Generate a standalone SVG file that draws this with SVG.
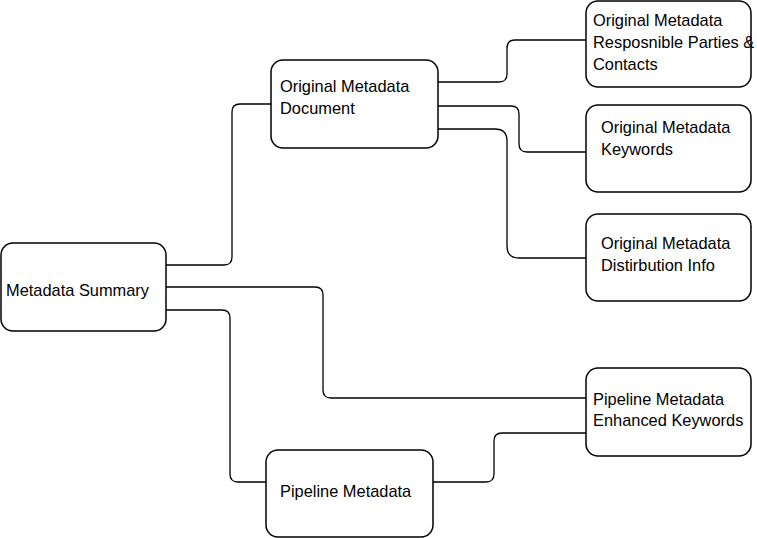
<svg xmlns="http://www.w3.org/2000/svg" width="757" height="538" viewBox="0 0 757 538">
<style>
.box{fill:#fff;stroke:#000;stroke-width:1.5}
.t{font-family:"Liberation Sans",Arial,sans-serif;font-size:16.4px;fill:#000}
.c{fill:none;stroke:#000;stroke-width:1.3}
</style>
<rect width="757" height="538" fill="#fff"/>
<g id="connectors">
<path class="c" d="M166,265 H224 Q232,265 232,257 V112 Q232,104 240,104 H271"/>
<path class="c" d="M438,82 H499 Q507,82 507,74 V48 Q507,40 515,40 H586"/>
<path class="c" d="M438,106 H511 Q519,106 519,114 V144 Q519,152 527,152 H586"/>
<path class="c" d="M438,129 H495 Q507,129 507,141 V246 Q507,258 519,258 H586"/>
<path class="c" d="M166,287 H315 Q323,287 323,295 V390 Q323,398 331,398 H586"/>
<path class="c" d="M166,310 H222 Q230,310 230,318 V474 Q230,482 238,482 H266"/>
<path class="c" d="M433,482 H486 Q494,482 494,474 V441 Q494,433 502,433 H586"/>
</g>
<g id="summary">
<rect class="box" x="1" y="243" width="165" height="88" rx="12"/>
<text class="t" x="6" y="296">Metadata Summary</text>
</g>
<g id="doc">
<rect class="box" x="271" y="60" width="167" height="88" rx="12"/>
<text class="t" x="280" y="92">Original Metadata</text>
<text class="t" x="280" y="114">Document</text>
</g>
<g id="parties">
<rect class="box" x="586" y="1" width="165" height="86" rx="12"/>
<text class="t" x="593" y="26">Original Metadata</text>
<text class="t" x="593" y="48">Resposnible Parties &amp;</text>
<text class="t" x="593" y="70">Contacts</text>
</g>
<g id="keywords">
<rect class="box" x="586" y="105" width="165" height="87" rx="12"/>
<text class="t" x="601" y="133">Original Metadata</text>
<text class="t" x="601" y="155">Keywords</text>
</g>
<g id="distribution">
<rect class="box" x="586" y="214" width="165" height="87" rx="12"/>
<text class="t" x="601" y="249">Original Metadata</text>
<text class="t" x="601" y="271">Distirbution Info</text>
</g>
<g id="enhanced">
<rect class="box" x="586" y="368" width="165" height="88" rx="12"/>
<text class="t" x="593" y="405">Pipeline Metadata</text>
<text class="t" x="593" y="426">Enhanced Keywords</text>
</g>
<g id="pipeline">
<rect class="box" x="266" y="450" width="167" height="87" rx="12"/>
<text class="t" x="280" y="497">Pipeline Metadata</text>
</g>
</svg>
